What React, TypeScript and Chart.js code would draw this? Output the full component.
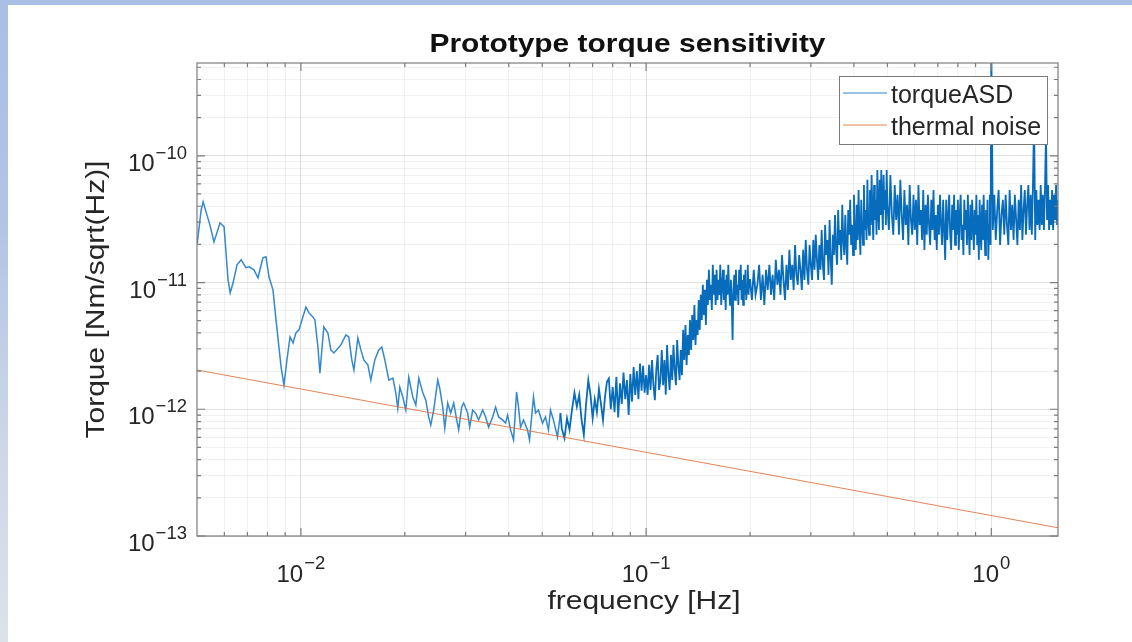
import React, { useEffect, useRef } from 'react';
import { Chart, registerables } from 'chart.js';

Chart.register(...registerables);

const FONT = '"Liberation Sans", Arial, Helvetica, sans-serif';

// ---------- axis ranges & ticks ----------
const X_MIN = 0.005;
const X_MAX = 1.56;
const Y_MIN = 1e-13;
const Y_MAX = 5.4e-10;

const xMajorTicks = [0.01, 0.1, 1];
const xMajorExponents = ['\u22122', '\u22121', '0'];
const xMinorTicks = [0.006, 0.007, 0.008, 0.009, 0.02, 0.03, 0.04, 0.05, 0.06, 0.07, 0.08, 0.09, 0.2, 0.3, 0.4, 0.5, 0.6, 0.7, 0.8, 0.9];

const yMajorTicks = [1e-13, 1e-12, 1e-11, 1e-10];
const yMajorExponents = ['\u221213', '\u221212', '\u221211', '\u221210'];
const yMinorTicks = [
  2e-13, 3e-13, 4e-13, 5e-13, 6e-13, 7e-13, 8e-13, 9e-13,
  2e-12, 3e-12, 4e-12, 5e-12, 6e-12, 7e-12, 8e-12, 9e-12,
  2e-11, 3e-11, 4e-11, 5e-11, 6e-11, 7e-11, 8e-11, 9e-11,
  2e-10, 3e-10, 4e-10, 5e-10,
];

// ---------- text ----------
const titleText = 'Prototype torque sensitivity';
const xLabelText = 'frequency [Hz]';
const yLabelText = 'Torque [Nm/sqrt(Hz)]';
const seriesNames = ['torqueASD', 'thermal noise'];

// ---------- torqueASD, low-frequency part (Hz, Nm/sqrt(Hz)) ----------
const lowFreqA = [0.00501, 0.00514, 0.00521, 0.00531, 0.00545, 0.0056, 0.00583, 0.00599, 0.00615, 0.00624, 0.00636, 0.00653, 0.00671, 0.00693, 0.00707, 0.00731, 0.00751, 0.00776, 0.00792, 0.00808, 0.0083, 0.00847, 0.00876, 0.00893, 0.00911, 0.0093, 0.00949, 0.00967, 0.00987];
const lowTorqueA = [2.05e-11, 3.74e-11, 4.33e-11, 3.61e-11, 2.85e-11, 2.09e-11, 2.96e-11, 2.75e-11, 1.05e-11, 8.3e-12, 9.95e-12, 1.38e-11, 1.51e-11, 1.31e-11, 1.33e-11, 1.26e-11, 1.09e-11, 1.57e-11, 1.6e-11, 1.11e-11, 8.75e-12, 5.07e-12, 2.16e-12, 1.55e-12, 2.45e-12, 3.72e-12, 3.34e-12, 4.0e-12, 4.23e-12];

const lowFreqB = [0.01013, 0.01034, 0.01055, 0.01083, 0.01098, 0.0112, 0.01135, 0.01165, 0.01197, 0.01221, 0.01246, 0.01306, 0.0135, 0.01376, 0.01404, 0.01424, 0.01462, 0.01492, 0.01521, 0.01563, 0.01594, 0.01637, 0.01681, 0.01715, 0.0175, 0.01798, 0.01847, 0.01883, 0.01908, 0.01934, 0.01973, 0.02013];
const lowTorqueB = [5.35e-12, 6.42e-12, 5.76e-12, 5.35e-12, 5.07e-12, 3.1e-12, 1.93e-12, 4.46e-12, 4.0e-12, 2.94e-12, 2.78e-12, 3.22e-12, 3.86e-12, 3.72e-12, 2.45e-12, 2.04e-12, 3.65e-12, 2.94e-12, 2.45e-12, 2.24e-12, 1.7e-12, 2.45e-12, 2.94e-12, 3.1e-12, 2.45e-12, 1.7e-12, 1.76e-12, 1.35e-12, 1.02e-12, 1.49e-12, 1.25e-12, 9.86e-13];

const lowFreqC = [0.02053, 0.02109, 0.02152, 0.02195, 0.02255, 0.023, 0.02345, 0.02377, 0.02425, 0.02491, 0.02524, 0.02575, 0.0261, 0.02662, 0.02716, 0.02771, 0.02827, 0.02864, 0.02922, 0.02961, 0.03042, 0.03082, 0.03145, 0.03208, 0.03272, 0.03361, 0.03428, 0.03497, 0.03592, 0.03664, 0.03738, 0.03839, 0.03916, 0.03969, 0.04049, 0.0413, 0.04214, 0.04269, 0.04327, 0.04414, 0.04534, 0.04594, 0.04718, 0.04782, 0.04877, 0.0501, 0.0511, 0.05213, 0.05283, 0.05389, 0.05536, 0.05647];
const lowTorqueC = [1.79e-12, 1.25e-12, 1.08e-12, 1.76e-12, 1.35e-12, 1.18e-12, 8.7e-13, 7.5e-13, 9.86e-13, 1.7e-12, 1.47e-12, 1.04e-12, 7.1e-13, 1.12e-12, 9.33e-13, 1.12e-12, 8.24e-13, 6.87e-13, 1.04e-12, 1.12e-12, 9.33e-13, 7.23e-13, 9.86e-13, 9.33e-13, 8.24e-13, 9.86e-13, 8.7e-13, 7.23e-13, 8.7e-13, 1.04e-12, 8.7e-13, 8.24e-13, 7.78e-13, 9.0e-13, 6.87e-13, 5.73e-13, 1.37e-12, 1.04e-12, 7.23e-13, 8.24e-13, 6.87e-13, 5.73e-13, 1.25e-12, 9.33e-13, 9.86e-13, 7.78e-13, 8.7e-13, 6.87e-13, 9.86e-13, 8.24e-13, 6.05e-13, 9.33e-13];

// ---------- torqueASD, dense noisy band ----------
const bandFreq1 = [0.057, 0.058, 0.059, 0.06, 0.061, 0.062, 0.063, 0.064, 0.065, 0.066, 0.067, 0.068, 0.069, 0.07, 0.071, 0.072, 0.073, 0.074, 0.075, 0.076, 0.077, 0.078, 0.079, 0.08, 0.081, 0.082, 0.083, 0.084, 0.085, 0.086, 0.087, 0.088, 0.089, 0.09, 0.091, 0.092, 0.093, 0.094, 0.095, 0.096, 0.097, 0.098, 0.099];
const bandTorque1 = [7.0e-13, 5.9e-13, 8.5e-13, 6.9e-13, 1.0e-12, 1.35e-12, 1.05e-12, 1.3e-12, 8.3e-13, 6.3e-13, 1.1e-12, 1.7e-12, 1.3e-12, 8.5e-13, 1.2e-12, 9.5e-13, 1.45e-12, 1.1e-12, 8.2e-13, 1.25e-12, 1.65e-12, 1.75e-12, 1.0e-12, 1.5e-12, 9.5e-13, 1.8e-12, 8.6e-13, 1.6e-12, 1.1e-12, 1.95e-12, 1.2e-12, 1.7e-12, 9.0e-13, 1.9e-12, 1.15e-12, 2.15e-12, 1.3e-12, 2.0e-12, 1.2e-12, 2.3e-12, 1.4e-12, 2.2e-12, 1.35e-12];

const bandFreq2 = [
  0.1, 0.101, 0.102, 0.103, 0.104, 0.105, 0.106, 0.107, 0.108, 0.109,
  0.11, 0.111, 0.112, 0.113, 0.114, 0.115, 0.116, 0.117, 0.118, 0.119,
  0.12, 0.121, 0.122, 0.123, 0.124, 0.125, 0.126, 0.127, 0.128, 0.129,
  0.13, 0.131, 0.132, 0.133, 0.134, 0.135, 0.136, 0.137, 0.138, 0.139,
  0.14, 0.141, 0.142, 0.143, 0.144, 0.145, 0.146, 0.147, 0.148, 0.149,
  0.15, 0.151, 0.152, 0.153, 0.154, 0.155, 0.156, 0.157, 0.158, 0.159,
  0.16, 0.161, 0.162, 0.163, 0.164, 0.165, 0.166, 0.167, 0.168, 0.169,
  0.17, 0.171, 0.172, 0.173, 0.174, 0.175, 0.176, 0.177, 0.178, 0.179,
  0.18, 0.181, 0.182, 0.183, 0.184, 0.185, 0.186, 0.187, 0.188, 0.189,
  0.19, 0.191, 0.192, 0.193, 0.194, 0.195, 0.196, 0.197, 0.198, 0.199,
];
const bandTorque2 = [
  1.86e-12, 1.3e-12, 2.24e-12, 1.42e-12, 2.45e-12, 1.55e-12, 1.18e-12, 2.04e-12, 2.68e-12, 1.42e-12,
  1.7e-12, 2.94e-12, 1.55e-12, 2.45e-12, 1.3e-12, 3.22e-12, 1.86e-12, 1.42e-12, 2.68e-12, 1.7e-12,
  3.22e-12, 2.04e-12, 1.55e-12, 3.52e-12, 2.24e-12, 1.7e-12, 2.94e-12, 1.86e-12, 4.23e-12, 2.45e-12,
  4.63e-12, 2.24e-12, 3.86e-12, 2.68e-12, 5.07e-12, 2.94e-12, 5.55e-12, 3.52e-12, 6.66e-12, 3.22e-12,
  5.07e-12, 3.86e-12, 7.29e-12, 4.23e-12, 8.0e-12, 5.07e-12, 9.6e-12, 5.55e-12, 8.75e-12, 4.63e-12,
  1.05e-11, 6.66e-12, 1.26e-11, 7.29e-12, 9.6e-12, 6.08e-12, 1.38e-11, 8.0e-12, 1.15e-11, 6.66e-12,
  1.26e-11, 7.29e-12, 1.05e-11, 8.0e-12, 1.38e-11, 6.66e-12, 9.6e-12, 1.26e-11, 7.29e-12, 1.05e-11,
  6.08e-12, 1.15e-11, 8.0e-12, 1.38e-11, 8.75e-12, 6.66e-12, 1.05e-11, 7.29e-12, 3.52e-12, 8.75e-12,
  1.15e-11, 7.29e-12, 1.26e-11, 8.0e-12, 9.6e-12, 6.66e-12, 1.26e-11, 8.75e-12, 1.38e-11, 7.29e-12,
  1.05e-11, 6.66e-12, 1.15e-11, 8.0e-12, 1.26e-11, 7.29e-12, 9.6e-12, 1.38e-11, 8.0e-12, 1.05e-11,
];

const bandFreq3 = [
  0.2, 0.2025, 0.205, 0.2075, 0.21, 0.2125, 0.215, 0.2175, 0.22, 0.2225, 0.225, 0.2275, 0.23, 0.2325, 0.235, 0.2375, 0.24, 0.2425, 0.245, 0.2475,
  0.25, 0.2525, 0.255, 0.2575, 0.26, 0.2625, 0.265, 0.2675, 0.27, 0.2725, 0.275, 0.2775, 0.28, 0.2825, 0.285, 0.2875, 0.29, 0.2925, 0.295, 0.2975,
  0.3, 0.3025, 0.305, 0.3075, 0.31, 0.3125, 0.315, 0.3175, 0.32, 0.3225, 0.325, 0.3275, 0.33, 0.3325, 0.335, 0.3375, 0.34, 0.3425, 0.345, 0.3475,
  0.35, 0.3525, 0.355, 0.3575, 0.36, 0.3625, 0.365, 0.3675, 0.37, 0.3725, 0.375, 0.3775, 0.38, 0.3825, 0.385, 0.3875, 0.39, 0.3925, 0.395, 0.3975,
  0.4, 0.4025, 0.405, 0.4075, 0.41, 0.4125, 0.415, 0.4175, 0.42, 0.4225, 0.425, 0.4275, 0.43, 0.4325, 0.435, 0.4375, 0.44, 0.4425, 0.445, 0.4475,
  0.45, 0.4525, 0.455, 0.4575, 0.46, 0.4625, 0.465, 0.4675, 0.47, 0.4725, 0.475, 0.4775, 0.48, 0.4825, 0.485, 0.4875, 0.49, 0.4925, 0.495, 0.4975,
];
const bandTorque3 = [
  1.05e-11, 7.29e-12, 1.26e-11, 8.0e-12, 9.6e-12, 1.38e-11, 7.29e-12, 1.15e-11, 6.66e-12, 1.26e-11, 8.75e-12, 1.38e-11, 8.0e-12, 1.15e-11, 7.29e-12, 1.51e-11, 9.6e-12, 1.26e-11, 8.0e-12, 1.65e-11,
  1.05e-11, 7.29e-12, 1.38e-11, 8.75e-12, 1.81e-11, 1.05e-11, 1.38e-11, 8.75e-12, 1.98e-11, 1.15e-11, 9.6e-12, 1.65e-11, 1.26e-11, 8.75e-12, 1.81e-11, 1.05e-11, 2.17e-11, 1.26e-11, 9.6e-12, 1.98e-11,
  1.38e-11, 1.05e-11, 2.17e-11, 1.26e-11, 2.38e-11, 1.51e-11, 1.05e-11, 1.98e-11, 1.26e-11, 2.6e-11, 1.38e-11, 1.05e-11, 2.85e-11, 1.65e-11, 2.17e-11, 1.15e-11, 3.12e-11, 1.51e-11, 9.6e-12, 2.38e-11,
  1.65e-11, 3.41e-11, 1.81e-11, 1.38e-11, 3.74e-11, 1.98e-11, 2.6e-11, 1.51e-11, 4.1e-11, 2.17e-11, 1.65e-11, 3.41e-11, 1.98e-11, 1.38e-11, 3.74e-11, 2.38e-11, 4.49e-11, 1.98e-11, 2.85e-11, 1.65e-11,
  4.92e-11, 2.38e-11, 1.81e-11, 4.1e-11, 2.17e-11, 5.38e-11, 2.6e-11, 1.65e-11, 4.49e-11, 2.85e-11, 1.98e-11, 5.88e-11, 2.6e-11, 3.74e-11, 2.17e-11, 6.46e-11, 3.12e-11, 2.38e-11, 5.38e-11, 2.85e-11,
  7.05e-11, 3.41e-11, 2.17e-11, 5.88e-11, 3.12e-11, 4.49e-11, 2.38e-11, 7.74e-11, 3.74e-11, 2.6e-11, 6.46e-11, 3.41e-11, 7.74e-11, 4.1e-11, 2.6e-11, 7.05e-11, 3.74e-11, 5.38e-11, 2.85e-11, 7.74e-11,
];

const bandFreq4 = [
  0.5, 0.505, 0.51, 0.515, 0.52, 0.525, 0.53, 0.535, 0.54, 0.545,
  0.55, 0.555, 0.56, 0.565, 0.57, 0.575, 0.58, 0.585, 0.59, 0.595,
  0.6, 0.605, 0.61, 0.615, 0.62, 0.625, 0.63, 0.635, 0.64, 0.645,
  0.65, 0.655, 0.66, 0.665, 0.67, 0.675, 0.68, 0.685, 0.69, 0.695,
  0.7, 0.705, 0.71, 0.715, 0.72, 0.725, 0.73, 0.735, 0.74, 0.745,
  0.75, 0.755, 0.76, 0.765, 0.77, 0.775, 0.78, 0.785, 0.79, 0.795,
  0.8, 0.805, 0.81, 0.815, 0.82, 0.825, 0.83, 0.835, 0.84, 0.845,
  0.85, 0.855, 0.86, 0.865, 0.87, 0.875, 0.88, 0.885, 0.89, 0.895,
  0.9, 0.905, 0.91, 0.915, 0.92, 0.925, 0.93, 0.935, 0.94, 0.945,
  0.95, 0.955, 0.96, 0.965, 0.97, 0.975, 0.98, 0.985, 0.99, 0.995,
];
const bandTorque4 = [
  4.1e-11, 2.6e-11, 7.05e-11, 3.41e-11, 2.38e-11, 5.88e-11, 3.12e-11, 4.92e-11, 2.38e-11, 6.46e-11,
  3.41e-11, 2.17e-11, 5.38e-11, 2.85e-11, 4.1e-11, 1.98e-11, 5.88e-11, 3.12e-11, 2.38e-11, 4.92e-11,
  2.6e-11, 4.49e-11, 1.98e-11, 5.88e-11, 2.85e-11, 3.74e-11, 2.17e-11, 5.38e-11, 1.81e-11, 4.1e-11,
  2.38e-11, 4.92e-11, 2.85e-11, 1.98e-11, 4.49e-11, 2.6e-11, 5.38e-11, 2.17e-11, 3.41e-11, 1.81e-11,
  4.1e-11, 2.38e-11, 4.92e-11, 2.85e-11, 1.98e-11, 4.49e-11, 2.6e-11, 1.51e-11, 4.49e-11, 2.17e-11,
  3.41e-11, 4.92e-11, 2.38e-11, 1.81e-11, 4.1e-11, 2.6e-11, 4.92e-11, 1.98e-11, 3.74e-11, 2.38e-11,
  4.49e-11, 1.81e-11, 3.41e-11, 4.92e-11, 2.17e-11, 2.85e-11, 1.65e-11, 4.49e-11, 2.6e-11, 3.74e-11,
  1.98e-11, 4.92e-11, 2.6e-11, 1.65e-11, 4.1e-11, 2.17e-11, 4.49e-11, 2.85e-11, 1.81e-11, 3.74e-11,
  2.38e-11, 4.92e-11, 1.98e-11, 3.41e-11, 1.51e-11, 4.49e-11, 2.6e-11, 1.81e-11, 4.1e-11, 2.17e-11,
  4.92e-11, 2.6e-11, 1.65e-11, 3.74e-11, 2.17e-11, 4.49e-11, 1.51e-11, 2.85e-11, 4.92e-11, 1.98e-11,
];

const bandFreq5 = [
  1.0, 1.01, 1.02, 1.03, 1.04, 1.05, 1.06, 1.07, 1.08, 1.09,
  1.1, 1.11, 1.12, 1.13, 1.14, 1.15, 1.16, 1.17, 1.18, 1.19,
  1.2, 1.21, 1.22, 1.23, 1.24, 1.25, 1.26, 1.27, 1.28, 1.29,
  1.3, 1.31, 1.32, 1.33, 1.34, 1.35, 1.36, 1.37, 1.38, 1.39,
  1.4, 1.41, 1.42, 1.43, 1.44, 1.45, 1.46, 1.47, 1.48, 1.49,
  1.5, 1.51, 1.52, 1.53, 1.54, 1.55, 1.56,
];
const bandTorque5 = [
  7.0e-10, 2.6e-11, 4.92e-11, 2.17e-11, 3.74e-11, 5.38e-11, 1.98e-11, 3.41e-11, 4.49e-11, 2.38e-11,
  4.92e-11, 2.85e-11, 1.98e-11, 5.38e-11, 2.6e-11, 4.1e-11, 2.17e-11, 4.92e-11, 3.12e-11, 1.98e-11,
  4.49e-11, 2.6e-11, 5.88e-11, 2.17e-11, 3.74e-11, 5.38e-11, 2.38e-11, 4.1e-11, 5.88e-11, 2.6e-11,
  4.92e-11, 2.38e-11, 5.88e-11, 2.0e-10, 2.17e-11, 5.38e-11, 2.85e-11, 4.49e-11, 2.6e-11, 5.88e-11,
  2.85e-11, 4.92e-11, 2.6e-11, 5.38e-11, 1.5e-10, 3.12e-11, 5.88e-11, 2.6e-11, 4.49e-11, 2.85e-11,
  5.38e-11, 2.6e-11, 4.92e-11, 3.12e-11, 5.88e-11, 2.85e-11, 4.49e-11,
];

// ---------- thermal noise (straight line in log-log) ----------
const thermalFreq = [0.005, 1.56];
const thermalTorque = [2.04e-12, 1.16e-13];

// ---------- styles ----------
const ASD_COLOR = 'rgb(8,108,188)';
const ASD_LOW_COLOR = 'rgb(52,136,204)';
const THERMAL_COLOR = 'rgba(222,110,60,0.85)';
const AXIS_COLOR = '#7c7c7c';
const TEXT_COLOR = '#262626';
const GRID_MAJOR = 'rgba(0,0,0,0.12)';
const GRID_MINOR = 'rgba(0,0,0,0.055)';

const isMajor = (v: number) => {
  const l = Math.log10(v);
  return Math.abs(l - Math.round(l)) < 1e-6;
};

const pairUp = (f: number[], v: number[]) => f.map((x, i) => ({ x, y: v[i] }));

function drawScaledText(ctx: CanvasRenderingContext2D, text: string, x: number, y: number, font: string, align: CanvasTextAlign, sx: number, color: string, rot = 0) {
  ctx.save();
  ctx.translate(x, y);
  if (rot) ctx.rotate(rot);
  ctx.scale(sx, 1);
  ctx.font = font;
  ctx.fillStyle = color;
  ctx.textAlign = align;
  ctx.textBaseline = 'alphabetic';
  ctx.fillText(text, 0, 0);
  ctx.restore();
}

function drawPower(ctx: CanvasRenderingContext2D, exp: string, x: number, baseY: number, supY: number, align: 'center' | 'right') {
  const baseFont = `24px ${FONT}`;
  const supFont = `18.5px ${FONT}`;
  const gap = 1;
  ctx.save();
  ctx.fillStyle = TEXT_COLOR;
  ctx.textBaseline = 'alphabetic';
  ctx.textAlign = 'left';
  ctx.font = baseFont;
  const w1 = ctx.measureText('10').width;
  ctx.font = supFont;
  const w2 = ctx.measureText(exp).width;
  const total = w1 + gap + w2;
  const start = align === 'center' ? x - total / 2 : x - total;
  ctx.font = baseFont;
  ctx.fillText('10', start, baseY);
  ctx.font = supFont;
  ctx.fillText(exp, start + w1 + gap, supY);
  ctx.restore();
}

const matlabPlugin = {
  id: 'matlabLook',
  afterDatasetsDraw(chart: any) {
    const { ctx, chartArea: a, scales } = chart;
    const xs = scales.x;
    const ys = scales.y;
    ctx.save();
    ctx.strokeStyle = AXIS_COLOR;
    ctx.lineWidth = 1.2;
    const xt = [...xMajorTicks.map((v) => [v, 8]), ...xMinorTicks.map((v) => [v, 4])];
    ctx.beginPath();
    xt.forEach(([v, len]) => {
      const px = xs.getPixelForValue(v);
      ctx.moveTo(px, a.bottom);
      ctx.lineTo(px, a.bottom - len);
      ctx.moveTo(px, a.top);
      ctx.lineTo(px, a.top + len);
    });
    const yt = [...yMajorTicks.map((v) => [v, 8]), ...yMinorTicks.map((v) => [v, 4])];
    yt.forEach(([v, len]) => {
      const py = ys.getPixelForValue(v);
      ctx.moveTo(a.left, py);
      ctx.lineTo(a.left + len, py);
      ctx.moveTo(a.right, py);
      ctx.lineTo(a.right - len, py);
    });
    ctx.stroke();
    ctx.strokeRect(a.left, a.top, a.right - a.left, a.bottom - a.top);

    // legend (inside axes, north-east)
    const lx = 839, ly = 76, lw = 208, lh = 68;
    ctx.fillStyle = '#ffffff';
    ctx.fillRect(lx, ly, lw, lh);
    ctx.strokeStyle = '#7a7a7a';
    ctx.lineWidth = 1;
    ctx.strokeRect(lx + 0.5, ly + 0.5, lw, lh);
    const rows = [
      { color: ASD_LOW_COLOR, y: 93, name: seriesNames[0], base: 103 },
      { color: THERMAL_COLOR, y: 125, name: seriesNames[1], base: 135 },
    ];
    rows.forEach((r) => {
      ctx.strokeStyle = r.color;
      ctx.lineWidth = 1.2;
      ctx.beginPath();
      ctx.moveTo(843, r.y);
      ctx.lineTo(887, r.y);
      ctx.stroke();
      drawScaledText(ctx, r.name, 891, r.base, `25px ${FONT}`, 'left', 1, TEXT_COLOR);
    });
    ctx.restore();
  },
  afterDraw(chart: any) {
    const { ctx, chartArea: a, scales } = chart;
    const xs = scales.x;
    const ys = scales.y;
    xMajorTicks.forEach((v, i) => {
      const px = xs.getPixelForValue(v);
      drawPower(ctx, xMajorExponents[i], px, a.bottom + 46, a.bottom + 33, 'center');
    });
    yMajorTicks.forEach((v, i) => {
      const py = ys.getPixelForValue(v);
      drawPower(ctx, yMajorExponents[i], a.left - 10, py + 15, py + 3, 'right');
    });
    drawScaledText(ctx, titleText, (a.left + a.right) / 2, 52, `bold 26.5px ${FONT}`, 'center', 1.13, '#111111');
    drawScaledText(ctx, xLabelText, 644, 609, `26.5px ${FONT}`, 'center', 1.13, TEXT_COLOR);
    drawScaledText(ctx, yLabelText, 104, (a.top + a.bottom) / 2, `26.5px ${FONT}`, 'center', 1.13, TEXT_COLOR, -Math.PI / 2);
  },
};

export default function App() {
  const canvasRef = useRef<HTMLCanvasElement | null>(null);

  useEffect(() => {
    if (!canvasRef.current) return;
    const asdPoints = [
      ...pairUp(lowFreqA, lowTorqueA),
      ...pairUp(lowFreqB, lowTorqueB),
      ...pairUp(lowFreqC, lowTorqueC),
      ...pairUp(bandFreq1, bandTorque1),
      ...pairUp(bandFreq2, bandTorque2),
      ...pairUp(bandFreq3, bandTorque3),
      ...pairUp(bandFreq4, bandTorque4),
      ...pairUp(bandFreq5, bandTorque5),
    ];
    const lowCount = lowFreqA.length + lowFreqB.length + lowFreqC.length;
    const thermalPoints = pairUp(thermalFreq, thermalTorque);

    const gridColor = (c: any) => (c.tick && isMajor(c.tick.value) ? GRID_MAJOR : GRID_MINOR);

    const chart = new Chart(canvasRef.current, {
      type: 'line',
      data: {
        datasets: [
          {
            label: seriesNames[0],
            data: asdPoints,
            borderColor: ASD_COLOR,
            borderWidth: 1.8,
            pointRadius: 0,
            fill: false,
            tension: 0,
            order: 2,
            segment: {
              borderColor: (c: any) => (c.p0DataIndex < lowCount - 1 ? ASD_LOW_COLOR : ASD_COLOR),
              borderWidth: (c: any) => (c.p0DataIndex < lowCount - 1 ? 1.5 : 1.8),
            },
          },
          {
            label: seriesNames[1],
            data: thermalPoints,
            borderColor: THERMAL_COLOR,
            borderWidth: 1.1,
            pointRadius: 0,
            fill: false,
            tension: 0,
            order: 1,
          },
        ],
      },
      options: {
        animation: false,
        responsive: false,
        devicePixelRatio: 1,
        events: [],
        layout: { padding: { left: 197, top: 63, right: 74, bottom: 106 } },
        plugins: {
          legend: { display: false },
          title: { display: false },
          tooltip: { enabled: false },
        },
        scales: {
          x: {
            type: 'logarithmic',
            min: X_MIN,
            max: X_MAX,
            border: { display: false },
            grid: { color: gridColor, lineWidth: 1, drawTicks: false },
            ticks: { display: false },
            afterBuildTicks: (scale: any) => {
              scale.ticks = [...xMinorTicks, ...xMajorTicks].sort((p, q) => p - q).map((value) => ({ value }));
            },
          },
          y: {
            type: 'logarithmic',
            min: Y_MIN,
            max: Y_MAX,
            border: { display: false },
            grid: { color: gridColor, lineWidth: 1, drawTicks: false },
            ticks: { display: false },
            afterBuildTicks: (scale: any) => {
              scale.ticks = [...yMinorTicks, ...yMajorTicks].sort((p, q) => p - q).map((value) => ({ value }));
            },
          },
        },
      } as any,
      plugins: [matlabPlugin],
    });
    return () => chart.destroy();
  }, []);

  return (
    <div style={{ position: 'fixed', left: 0, top: 0, width: 1132, height: 642, background: '#ffffff', overflow: 'hidden' }}>
      <div style={{ position: 'absolute', left: 0, top: 0, width: 1132, height: 5, background: '#a9bfe6' }} />
      <div
        style={{
          position: 'absolute',
          left: 0,
          top: 0,
          width: 8,
          height: 642,
          background: 'linear-gradient(#a9bfe6 0%, #b2c4e6 35%, #cdd7e7 70%, #dde2ea 100%)',
        }}
      />
      <canvas ref={canvasRef} width={1132} height={642} style={{ position: 'absolute', left: 0, top: 0 }} />
    </div>
  );
}
